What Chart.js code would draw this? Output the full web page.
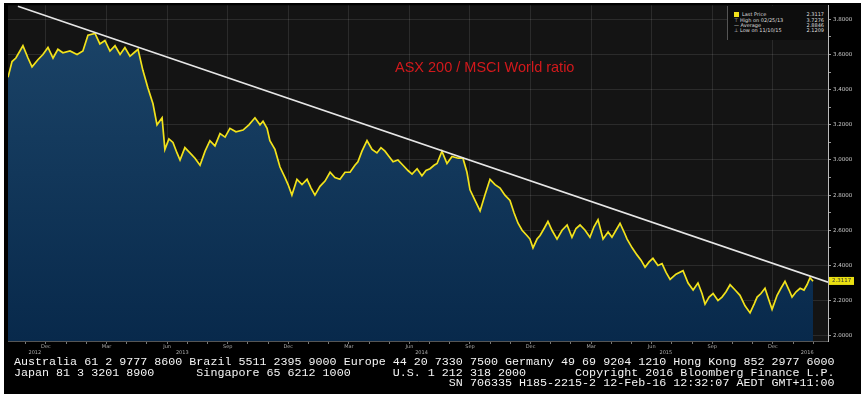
<!DOCTYPE html>
<html>
<head>
<meta charset="utf-8">
<script src="https://cdn.jsdelivr.net/npm/chart.js@4.4.0/dist/chart.umd.min.js"></script>
<style>
body{margin:0;background:#fff;width:867px;height:397px;overflow:hidden;position:relative;}
#panel{position:absolute;left:4px;top:3px;width:857px;height:391px;background:#000;}
#wrap{position:absolute;left:0;top:0;width:867px;height:397px;}
#title{position:absolute;left:395px;top:59px;color:#d2191c;font:14.5px 'Liberation Sans',Arial,sans-serif;white-space:nowrap;}
#legend{position:absolute;left:727px;top:6px;width:100px;height:34px;background:#0d0d0d;border-left:1px solid #555;font:5px 'DejaVu Sans',sans-serif;color:#ddd;}
.row{position:absolute;left:6px;width:90px;height:5px;line-height:5px;display:flex;justify-content:space-between;white-space:nowrap;}
.sq{display:inline-block;width:5px;height:5px;background:#f2e21b;margin-right:3px;vertical-align:top;}
#footer{position:absolute;left:14px;top:357px;color:#f4f4f4;font:11.7px 'Liberation Mono','DejaVu Sans Mono',monospace;line-height:10.5px;white-space:pre;}
</style>
</head>
<body>
<div id="panel"></div>
<div id="wrap"><canvas id="myChart"></canvas></div>
<div id="title">ASX 200 / MSCI World ratio</div>
<div id="legend">
  <div class="row" style="top:6px"><span><span class="sq"></span>Last Price</span><span>2.3117</span></div>
  <div class="row" style="top:12px"><span>&#x22A4; High on 02/25/13</span><span>3.7276</span></div>
  <div class="row" style="top:17px"><span>&#x2014; Average</span><span>2.8846</span></div>
  <div class="row" style="top:22px"><span>&#x22A5; Low on 11/10/15</span><span>2.1209</span></div>
</div>
<div id="footer">Australia 61 2 9777 8600 Brazil 5511 2395 9000 Europe 44 20 7330 7500 Germany 49 69 9204 1210 Hong Kong 852 2977 6000
Japan 81 3 3201 8900      Singapore 65 6212 1000      U.S. 1 212 318 2000       Copyright 2016 Bloomberg Finance L.P.
                                                              SN 706335 H185-2215-2 12-Feb-16 12:32:07 AEDT GMT+11:00</div>
<script>
// months counted from Dec 2012 (0 = Dec 2012)
const monthIdx = [-1.88,-1.68,-1.49,-1.14,-0.89,-0.69,-0.40,-0.15,0.10,0.35,0.59,0.84,1.19,1.54,1.83,2.08,2.43,2.67,2.92,3.17,
  3.42,3.67,3.91,4.16,4.36,4.56,4.80,5.05,5.30,5.50,5.75,5.89,6.09,6.29,6.49,6.64,6.88,7.13,7.38,7.63,
  7.88,8.12,8.37,8.62,8.87,9.11,9.41,9.76,10.05,10.35,10.60,10.75,10.95,11.09,11.34,11.59,11.84,11.99,12.18,12.43,
  12.68,12.93,13.13,13.32,13.57,13.82,14.07,14.31,14.56,14.81,15.06,15.30,15.45,15.65,15.90,16.15,16.39,16.59,16.79,16.99,
  17.19,17.43,17.68,17.93,18.13,18.38,18.62,18.82,19.02,19.22,19.37,19.61,19.86,20.11,20.41,20.65,20.85,21.00,21.25,21.50,
  21.74,21.99,22.24,22.49,22.73,22.98,23.18,23.38,23.58,23.82,23.97,24.12,24.32,24.47,24.67,24.86,25.06,25.31,25.56,25.81,
  26.05,26.25,26.45,26.70,26.94,27.14,27.34,27.59,27.84,28.03,28.23,28.43,28.63,28.78,29.03,29.27,29.47,29.67,29.87,30.06,
  30.31,30.51,30.71,30.91,31.20,31.55,31.80,32.05,32.29,32.49,32.64,32.84,33.04,33.28,33.48,33.68,33.88,34.13,34.37,34.62,
  34.87,35.07,35.22,35.41,35.61,35.81,35.96,36.21,36.40,36.60,36.80,36.95,37.15,37.35,37.54,37.69,37.84,37.99];
const ratio = [3.47,3.56,3.58,3.65,3.58,3.53,3.57,3.60,3.64,3.58,3.63,3.61,3.62,3.60,3.62,3.71,3.72,3.66,3.68,3.62,
  3.65,3.60,3.64,3.59,3.61,3.63,3.51,3.41,3.32,3.20,3.24,3.06,3.12,3.10,3.04,3.00,3.07,3.04,3.01,2.97,
  3.05,3.11,3.08,3.15,3.13,3.18,3.16,3.17,3.20,3.24,3.20,3.22,3.18,3.11,3.06,2.96,2.90,2.86,2.80,2.89,
  2.86,2.89,2.84,2.80,2.85,2.88,2.93,2.90,2.89,2.93,2.93,2.97,2.99,3.05,3.11,3.06,3.04,3.07,3.05,3.02,
  2.99,3.00,2.97,2.94,2.92,2.95,2.91,2.94,2.95,2.97,2.98,3.05,2.98,3.02,3.01,3.01,2.93,2.83,2.77,2.71,
  2.80,2.89,2.86,2.84,2.80,2.77,2.70,2.64,2.60,2.57,2.55,2.50,2.55,2.57,2.61,2.65,2.60,2.55,2.60,2.63,
  2.56,2.61,2.63,2.60,2.56,2.62,2.66,2.55,2.59,2.56,2.60,2.64,2.59,2.55,2.50,2.46,2.43,2.39,2.42,2.44,
  2.40,2.41,2.36,2.32,2.35,2.37,2.30,2.26,2.30,2.24,2.18,2.22,2.24,2.20,2.22,2.25,2.29,2.26,2.23,2.17,
  2.13,2.18,2.22,2.24,2.27,2.20,2.15,2.23,2.27,2.31,2.26,2.22,2.25,2.27,2.26,2.29,2.33,2.31];
const trendMonths = [-1.39, 38.73];
const trendValues = [3.875, 2.305];
const tickMonths = [0,3,6,9,12,15,18,21,24,27,30,33,36];
const tickLabels = ['Dec','Mar','Jun','Sep','Dec','Mar','Jun','Sep','Dec','Mar','Jun','Sep','Dec'];
const yearPos = [-0.55, 6.75, 18.6, 30.7, 37.7];
const yearLabels = ['2012','2013','2014','2015','2016'];
const yTicks = [2.0,2.2,2.4,2.6,2.8,3.0,3.2,3.4,3.6,3.8];
const lastPrice = 2.3117;

const series = monthIdx.map((m, i) => ({x: m, y: ratio[i]}));
const trend = trendMonths.map((m, i) => ({x: m, y: trendValues[i]}));

const extras = {
  id: 'extras',
  beforeDraw(chart) {
    const {ctx, chartArea: a} = chart;
    ctx.save();
    ctx.fillStyle = '#141414';
    ctx.fillRect(a.left, a.top, a.right - a.left, a.bottom - a.top);
    ctx.restore();
  },
  afterDraw(chart) {
    const ctx = chart.ctx, xs = chart.scales.x, ys = chart.scales.y;
    ctx.save();
    ctx.font = '5px "DejaVu Sans"';
    ctx.fillStyle = '#aaa';
    ctx.textAlign = 'center';
    ctx.textBaseline = 'middle';
    yearLabels.forEach((t, i) => ctx.fillText(t, xs.getPixelForValue(yearPos[i]), xs.top + 12));
    // last price tag on the axis
    const py = ys.getPixelForValue(lastPrice);
    ctx.fillStyle = '#e9df12';
    ctx.fillRect(ys.left + 1, py - 4, 25, 8);
    ctx.fillStyle = '#333';
    ctx.font = '5.5px "DejaVu Sans"';
    ctx.textAlign = 'left';
    ctx.fillText(lastPrice.toFixed(4), ys.left + 4, py);
    ctx.restore();
  }
};

new Chart('myChart', {
  type: 'line',
  data: {
    datasets: [
      {
        label: 'Trend',
        data: trend,
        borderColor: '#e6e6e6',
        borderWidth: 1.6,
        pointRadius: 0,
        fill: false
      },
      {
        label: 'Last Price',
        data: series,
        borderColor: '#f2e21b',
        borderWidth: 1.7,
        pointRadius: 0,
        tension: 0,
        fill: 'start',
        backgroundColor: (c) => {
          const a = c.chart.chartArea;
          if (!a) return '#12385c';
          const g = c.chart.ctx.createLinearGradient(0, a.top, 0, a.bottom);
          g.addColorStop(0, '#1c4569');
          g.addColorStop(1, '#08294b');
          return g;
        }
      }
    ]
  },
  options: {
    responsive: true,
    maintainAspectRatio: false,
    animation: false,
    layout: {padding: {left: 8, top: 5, right: 5, bottom: 42}},
    plugins: {legend: {display: false}, tooltip: {enabled: false}},
    scales: {
      x: {
        type: 'linear',
        min: -1.88,
        max: 38.73,
        afterBuildTicks: (s) => {
          s.ticks = [];
          for (let m = -1; m <= 38; m++) s.ticks.push({value: m});
        },
        afterFit: (s) => { s.height = 14; },
        border: {color: '#555'},
        grid: {
          color: (c) => tickMonths.includes(c.tick && c.tick.value) ? 'rgba(255,255,255,0.10)' : 'rgba(0,0,0,0)',
          tickColor: '#777',
          tickLength: 3
        },
        ticks: {
          autoSkip: false,
          maxRotation: 0,
          padding: 0,
          color: '#aaa',
          font: {family: 'DejaVu Sans', size: 5},
          callback: (v) => {
            const i = tickMonths.indexOf(v);
            return i >= 0 ? tickLabels[i] : '';
          }
        }
      },
      y: {
        position: 'right',
        min: 1.97,
        max: 3.88,
        afterBuildTicks: (s) => {
          s.ticks = [];
          for (let k = 20; k <= 38; k++) s.ticks.push({value: k / 10});
        },
        afterFit: (s) => { s.width = 34; },
        border: {color: '#bbb', width: 1},
        grid: {
          color: (c) => yTicks.some(t => c.tick && Math.abs(t - c.tick.value) < 1e-6) ? 'rgba(255,255,255,0.10)' : 'rgba(0,0,0,0)',
          tickColor: '#999',
          tickLength: 3
        },
        ticks: {
          padding: 2,
          color: '#ccc',
          font: {family: 'DejaVu Sans', size: 5.5},
          callback: (v) => yTicks.some(t => Math.abs(t - v) < 1e-6) ? v.toFixed(4) : ''
        }
      }
    }
  },
  plugins: [extras]
});
</script>
</body>
</html>
